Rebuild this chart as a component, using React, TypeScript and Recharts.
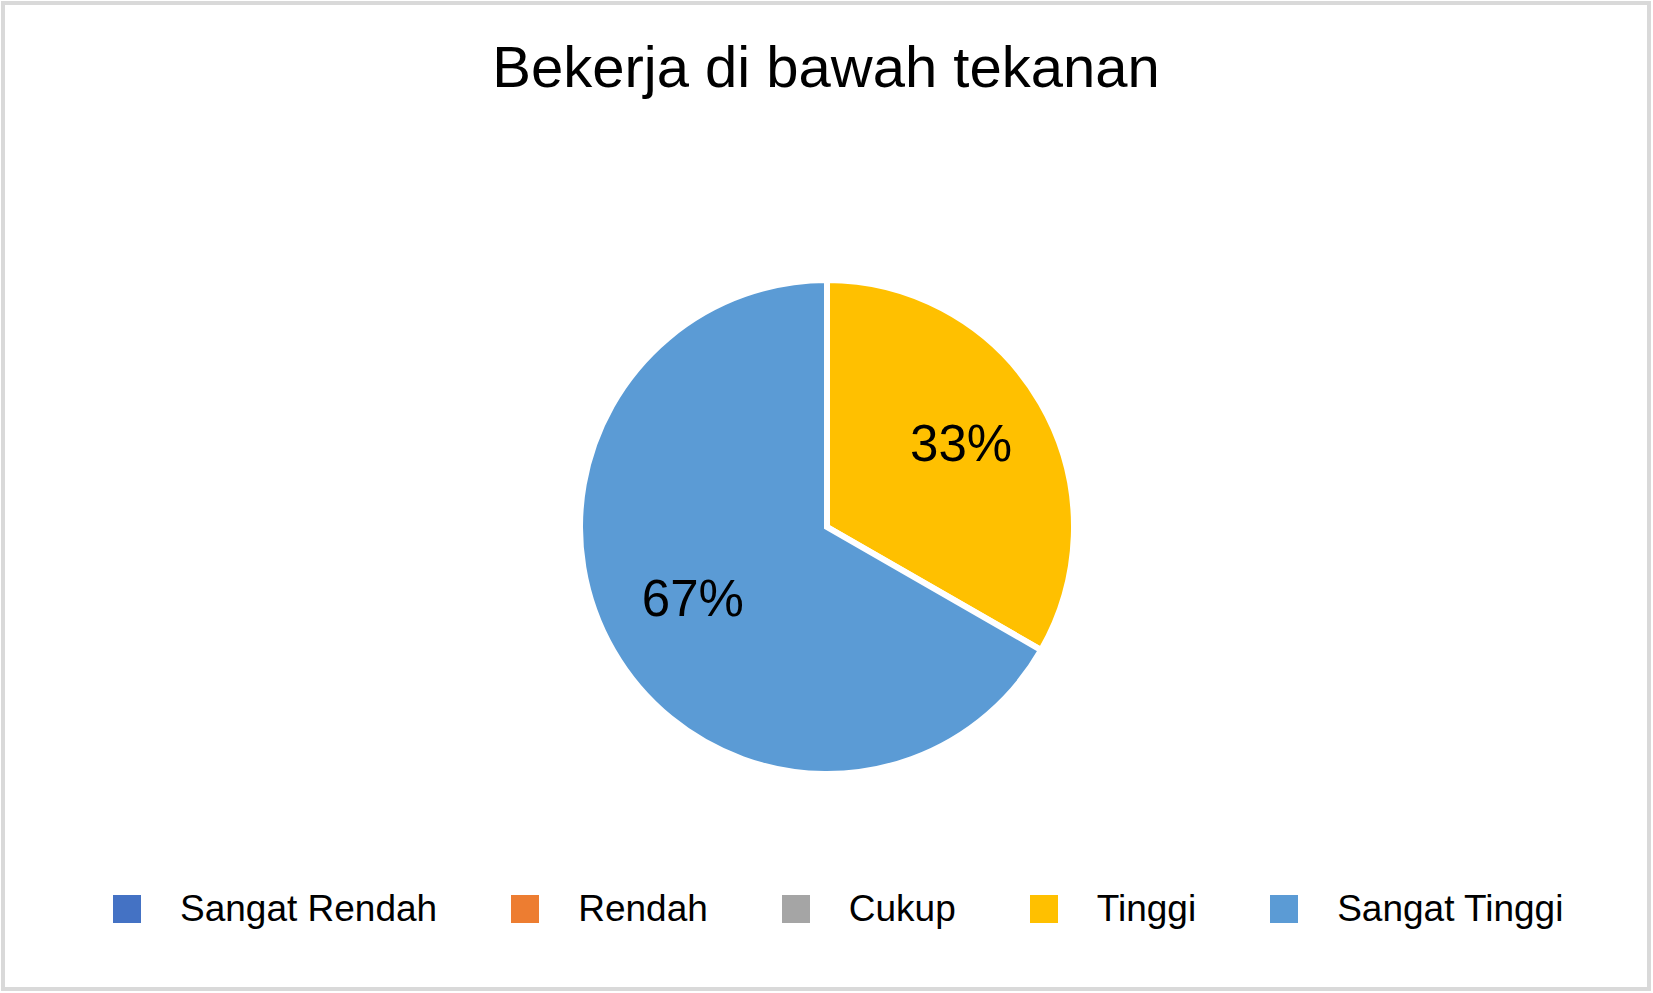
import React from 'react'
import {Cell, Legend, Pie, PieChart} from "recharts"

const categories = ["Sangat Rendah", "Rendah", "Cukup", "Tinggi", "Sangat Tinggi"]
const shares = [0, 0, 0, 33.3, 66.7]
const colors = ["#4472C4", "#ED7D31", "#A5A5A5", "#FFC000", "#5B9BD5"]

const data = categories.map((name, i) => ({name, value: shares[i]}))

const FONT = '"Liberation Sans", Arial, sans-serif'
const RADIAN = Math.PI / 180

const renderLabel = (props: any) => {
  const {cx, cy, midAngle, percent, value} = props
  if (!value) return null
  const r = 155
  const x = cx + r * Math.cos(-midAngle * RADIAN)
  const y = cy + r * Math.sin(-midAngle * RADIAN) - 6
  return (
    <text x={x} y={y} fill="#000" textAnchor="middle" dominantBaseline="central"
      style={{fontFamily: FONT, fontSize: 51}}>
      {`${Math.round(percent * 100)}%`}
    </text>
  )
}

const renderLegend = () => (
  <div style={{display: 'flex', alignItems: 'center', fontFamily: FONT, fontSize: 37, lineHeight: '37px', color: '#000'}}>
    {categories.map((name, i) => (
      <div key={name} style={{display: 'flex', alignItems: 'center', marginRight: 74}}>
        <span style={{display: 'inline-block', width: 28, height: 28, background: colors[i], marginRight: 39}} />
        <span style={{whiteSpace: 'nowrap'}}>{name}</span>
      </div>
    ))}
  </div>
)

function App() {
  return (
    <div style={{position: 'absolute', left: 1, top: 1, width: 1650, height: 990, border: '4px solid #d9d9d9', boxSizing: 'border-box', background: '#fff'}}>
      <div style={{position: 'absolute', left: 0, top: 33, width: '100%', textAlign: 'center', fontFamily: FONT, fontSize: 58, lineHeight: '58px', color: '#000'}}>
        Bekerja di bawah tekanan
      </div>
      <PieChart width={1642} height={982} margin={{top: 0, right: 0, bottom: 0, left: 0}}>
        <Pie
          data={data}
          dataKey="value"
          nameKey="name"
          cx={822}
          cy={522}
          outerRadius={247}
          startAngle={90}
          endAngle={-270}
          stroke="#fff"
          strokeWidth={6}
          label={renderLabel}
          labelLine={false}
          isAnimationActive={false}
        >
          {data.map((d, i) => <Cell key={d.name} fill={colors[i]} />)}
        </Pie>
        <Legend verticalAlign="bottom" align="left" content={renderLegend}
          wrapperStyle={{left: 108, top: 885, bottom: 'auto', width: 1520}} />
      </PieChart>
    </div>
  )
}

export default App
